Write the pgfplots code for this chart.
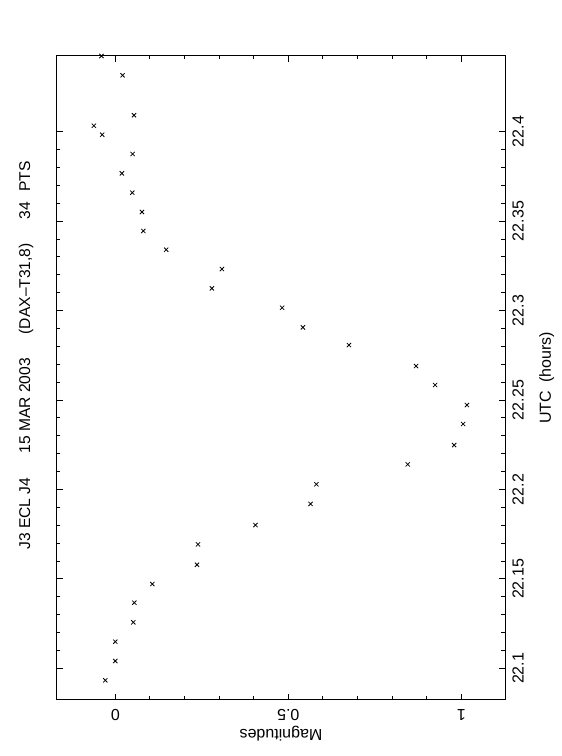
\documentclass[border=0pt]{standalone}
\usepackage{fontspec}
\setmainfont{Liberation Sans}
\usepackage{pgfplots}
\pgfplotsset{compat=1.18}
\pgfplotstableread{
utc mag
22.0933 -0.029
22.1041 0.000
22.1149 0.000
22.1257 0.052
22.1367 0.055
22.1471 0.107
22.1579 0.236
22.1693 0.239
22.1801 0.405
22.1919 0.564
22.2029 0.581
22.2140 0.845
22.2248 0.979
22.2366 1.005
22.2472 1.016
22.2584 0.924
22.2690 0.869
22.2807 0.675
22.2906 0.542
22.3016 0.482
22.3124 0.279
22.3232 0.308
22.3340 0.147
22.3445 0.081
22.3551 0.077
22.3659 0.049
22.3767 0.019
22.3875 0.050
22.3983 -0.038
22.4033 -0.062
22.4092 0.054
22.4315 0.021
22.4423 -0.040
}\datatab
\begin{document}
\fontsize{8pt}{9.6pt}\selectfont
\begin{tikzpicture}
\useasboundingbox (-28.5pt,-28pt) rectangle (252.5pt,350pt);
\begin{axis}[
  at={(0pt,0pt)}, anchor=south west,
  scale only axis, width=224pt, height=322pt,
  xmin=-0.1685, xmax=1.126, ymin=22.0823, ymax=22.4423,
  xtick={0,0.5,1}, xticklabels={0,0.5,1},
  ytick={22.1,22.15,22.2,22.25,22.3,22.35,22.4},
  yticklabels={22.1,22.15,22.2,22.25,22.3,22.35,22.4},
  minor x tick num=4, minor y tick num=4,
  tick align=inside, major tick length=3pt, minor tick length=1.75pt,
  xtick pos=both, ytick pos=both,
  xticklabel pos=lower, yticklabel pos=right,
  axis line style={line width=0.5pt},
  tick style={line width=0.5pt, black},
  every tick label/.append style={font=\fontsize{8pt}{9.6pt}\selectfont},
  xticklabel style={rotate=180, anchor=south, inner sep=4.5pt},
  yticklabel style={rotate=90, anchor=north, inner sep=3.5pt},
  xlabel={Magnitudes},
  xlabel style={at={(axis description cs:0.5,-0.0404)}, anchor=south, rotate=180, inner sep=0pt},
  title={J3 ECL J4\hspace{12pt}15 MAR 2003\hspace{12pt}(DAX--T31,8)\hspace{12pt}34\hspace{5pt}PTS},
  title style={at={(axis description cs:-0.0692,0.5163)}, anchor=center, rotate=90, inner sep=0pt, font=\fontsize{7.8pt}{9.4pt}\selectfont},
  clip=false,
]
\addplot[only marks, mark=x, mark size=1.5pt, line width=0.4pt, black] table[x=mag, y=utc] {\datatab};
\node[rotate=90, anchor=north, inner sep=0pt] at (rel axis cs:1.0759,0.5) {UTC\hspace{4pt}(hours)};
\end{axis}
\end{tikzpicture}
\end{document}
